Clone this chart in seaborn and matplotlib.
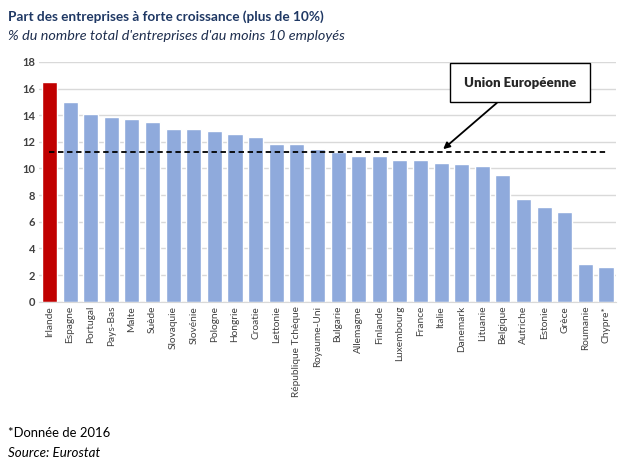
import matplotlib
matplotlib.use('Agg')
import matplotlib.pyplot as plt
import seaborn as sns
import pandas as pd

countries = ['Irlande', 'Espagne', 'Portugal', 'Pays-Bas', 'Malte', 'Suède', 'Slovaquie',
             'Slovénie', 'Pologne', 'Hongrie', 'Croatie', 'Lettonie', 'République Tchèque',
             'Royaume-Uni', 'Bulgarie', 'Allemagne', 'Finlande', 'Luxembourg', 'France',
             'Italie', 'Danemark', 'Lituanie', 'Belgique', 'Autriche', 'Estonie', 'Grèce',
             'Roumanie', 'Chypre*']
values = [16.5, 15.0, 14.1, 13.9, 13.7, 13.5, 13.0, 13.0, 12.8, 12.6, 12.4, 11.8, 11.8,
          11.45, 11.2, 10.9, 10.9, 10.6, 10.6, 10.4, 10.3, 10.2, 9.5, 7.7, 7.1, 6.7, 2.8, 2.6]
eu_value = 11.25
yticks = [0, 2, 4, 6, 8, 10, 12, 14, 16, 18]

df = pd.DataFrame({'pays': countries, 'part': values})
palette = ['#C00000' if c == 'Irlande' else '#8FAADC' for c in countries]

sns.set_style('white')
plt.rcParams['font.family'] = ['Lato', 'DejaVu Sans']

fig = plt.figure(figsize=(6.42, 4.62), dpi=100)
ax = fig.add_axes([0.061, 0.347, 0.899, 0.519])

sns.barplot(data=df, x='pays', y='part', hue='pays', palette=palette, legend=False,
            width=0.73, saturation=1, ax=ax, zorder=2)

ax.set_ylim(0, 18)
ax.set_xlim(-0.5, len(countries) - 0.5)
ax.set_yticks(yticks)
ax.set_yticklabels([str(t) for t in yticks], fontsize=8, fontweight='bold', color='#404040')
ax.set_xticks(range(len(countries)))
ax.set_xticklabels(countries, rotation=90, fontsize=7.3, color='#404040')
ax.tick_params(axis='both', length=0, pad=3)
ax.grid(axis='y', color='#D9D9D9', linewidth=1, zorder=0)
ax.set_xlabel('')
ax.set_ylabel('')
for s in ['top', 'right', 'left']:
    ax.spines[s].set_visible(False)
ax.spines['bottom'].set_color('#D9D9D9')

# EU average line
ax.plot([0, len(countries) - 1], [eu_value, eu_value], color='black',
        linestyle=(0, (3, 2)), linewidth=1.3, zorder=3)
ax.annotate('Union Européenne', xy=(19.1, eu_value + 0.2), xytext=(22.85, 16.45),
            ha='center', va='center', fontsize=9.5, fontweight='heavy',
            bbox=dict(boxstyle='square,pad=1.05', fc='white', ec='black', lw=1),
            arrowprops=dict(arrowstyle='-|>', color='black', lw=1.3,
                            shrinkA=0, shrinkB=0), zorder=5)

fig.text(0.012, 0.978, 'Part des entreprises à forte croissance (plus de 10%)',
         fontsize=9.8, fontweight='bold', color='#1F3864', va='top')
fig.text(0.012, 0.935, "% du nombre total d'entreprises d'au moins 10 employés",
         fontsize=10.4, style='italic', color='#1F2F4F', va='top')
fig.text(0.012, 0.075, '*Donnée de 2016', fontsize=9.4, color='black', va='top')
fig.text(0.012, 0.032, 'Source: Eurostat', fontsize=9.6, style='italic', color='black', va='top')

fig.savefig('out.png', dpi=100)
